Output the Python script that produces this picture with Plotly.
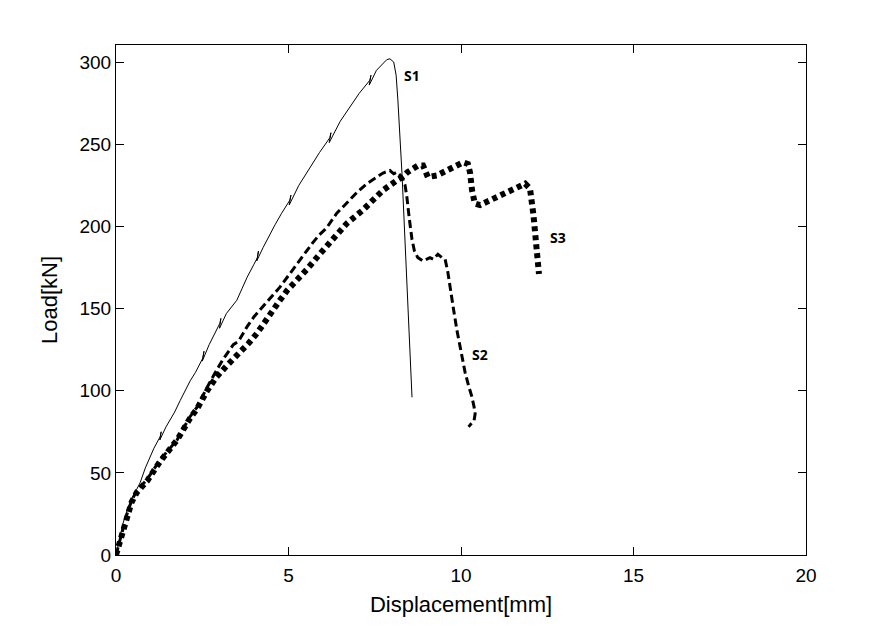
import plotly.graph_objects as go

# S1 (thin solid)
s1_x = [0, 0.05, 0.12, 0.2, 0.32, 0.45, 0.6, 0.7, 0.85, 0.99, 1.1, 1.28, 1.31, 1.27, 1.45, 1.57, 1.7,
        1.86, 2.0, 2.15, 2.3, 2.45, 2.52, 2.55, 2.5, 2.7, 2.85, 3.01, 3.04, 3.0, 3.2, 3.35, 3.5, 3.65,
        3.8, 4.0, 4.1, 4.13, 4.08, 4.26, 4.45, 4.61, 4.8, 5.04, 5.07, 5.02, 5.3, 5.62, 5.9, 6.2, 6.23,
        6.18, 6.5, 6.78, 7.05, 7.36, 7.39, 7.34, 7.55, 7.74, 7.85, 7.94, 8.05, 8.12, 8.17, 8.29, 8.4,
        8.5, 8.58]
s1_y = [0, 5, 13, 19, 27, 34, 40, 44, 53, 60, 65, 72, 75, 70, 78, 82, 87,
        94, 100, 106, 111, 117, 120, 124, 118, 128, 134, 141, 144, 138, 147, 151, 155, 162,
        169, 177, 181, 185, 179, 187, 195, 201, 208, 216, 219, 213, 225, 236, 245, 254, 257,
        251, 264, 273, 281, 289, 292, 286, 295, 299.5, 301.5, 302, 300, 292, 277, 232, 180,
        130, 96]

# S2 (dashed)
s2_x = [0, 0.1, 0.2, 0.32, 0.45, 0.6, 0.9, 1.28, 1.77, 2.14, 2.35, 2.64, 2.93, 3.1, 3.3, 3.4,
        3.55, 3.8, 4.0, 4.26, 4.5, 4.75, 4.96, 5.2, 5.45, 5.7, 5.9, 6.1, 6.4, 6.78, 7.0, 7.27, 7.5,
        7.74, 7.94, 8.05, 8.15, 8.29, 8.38, 8.43, 8.5, 8.58, 8.65, 8.75, 8.9, 9.1, 9.2, 9.33, 9.45,
        9.54, 9.62, 9.68, 9.78, 9.88, 10.0, 10.12, 10.22, 10.32, 10.38, 10.41, 10.38, 10.3, 10.22]
s2_y = [0, 8, 15, 25, 33, 39, 46, 58, 70, 84, 90, 102, 113, 119, 125, 128,
        130, 139, 145, 151, 157, 163, 169, 176, 183, 190, 195, 199, 208, 216, 221, 226, 229,
        232.5, 234, 232, 233, 230, 225, 218, 205, 192, 185, 181, 179, 181, 180, 183, 181,
        180, 172, 163, 150, 137, 124, 111, 103, 96, 90, 86, 82, 80, 78]

# S3 (thick dotted)
s3_x = [0, 0.1, 0.2, 0.32, 0.45, 0.6, 0.9, 1.28, 1.77, 2.14, 2.35, 2.64, 2.9, 3.2, 3.4, 3.6, 3.85,
        4.09, 4.46, 4.75, 4.96, 5.2, 5.54, 5.9, 6.3, 6.7, 7.16, 7.45, 7.74, 8.14, 8.3, 8.45, 8.6,
        8.75, 8.9, 9.04, 9.3, 9.6, 9.8, 10.06, 10.2, 10.26, 10.32, 10.4, 10.55, 10.75, 11.0, 11.2,
        11.4, 11.6, 11.86, 12.0, 12.06, 12.1, 12.14, 12.2, 12.23, 12.26]
s3_y = [0, 7, 14, 25, 32, 38, 45, 57, 70, 83, 89, 100, 108, 115, 119, 123, 129,
        135, 147, 155, 161, 166, 174, 183, 192, 202, 210, 216, 222, 228, 230, 233, 235,
        237, 237, 230, 231, 234, 236, 239, 238, 233, 222, 214, 213, 215, 217, 219,
        221, 223, 226, 223, 216, 207, 198, 188, 181, 171]

labels = ["S1", "S2", "S3"]
label_x = [8.58, 10.55, 12.8]
label_y = [292, 122, 193]

x_ticks = [0, 5, 10, 15, 20]
y_ticks = [0, 50, 100, 150, 200, 250, 300]

fig = go.Figure()
fig.add_trace(go.Scatter(x=s1_x, y=s1_y, mode="lines", line=dict(color="black", width=1), showlegend=False))
fig.add_trace(go.Scatter(x=s2_x, y=s2_y, mode="lines", line=dict(color="black", width=3, dash="8px,4px"), showlegend=False))
fig.add_trace(go.Scatter(x=s3_x, y=s3_y, mode="lines", line=dict(color="black", width=6, dash="5px,4px"), showlegend=False))

for t, lx, ly in zip(labels, label_x, label_y):
    fig.add_annotation(x=lx, y=ly, text="<b>" + t + "</b>", showarrow=False,
                       font=dict(family="Noto Sans", size=14, color="black"))

axis_common = dict(showline=True, linecolor="black", linewidth=1, mirror="allticks",
                   ticks="inside", ticklen=8, tickcolor="black", showgrid=False, zeroline=False,
                   tickfont=dict(family="Liberation Sans", size=19, color="black"))

fig.update_xaxes(range=[0, 20], tickvals=x_ticks, ticklabelstandoff=3, **axis_common,
                 title=dict(text="Displacement[mm]", font=dict(family="Liberation Sans", size=22, color="black"), standoff=11))
fig.update_yaxes(range=[0, 310.4], tickvals=y_ticks, **axis_common,
                 title=dict(text="Load[kN]", font=dict(family="Liberation Sans", size=22, color="black"), standoff=15))

fig.update_layout(width=892, height=626, margin=dict(l=116, r=86, t=45, b=71),
                  plot_bgcolor="white", paper_bgcolor="white")

fig.write_html("out.html")
